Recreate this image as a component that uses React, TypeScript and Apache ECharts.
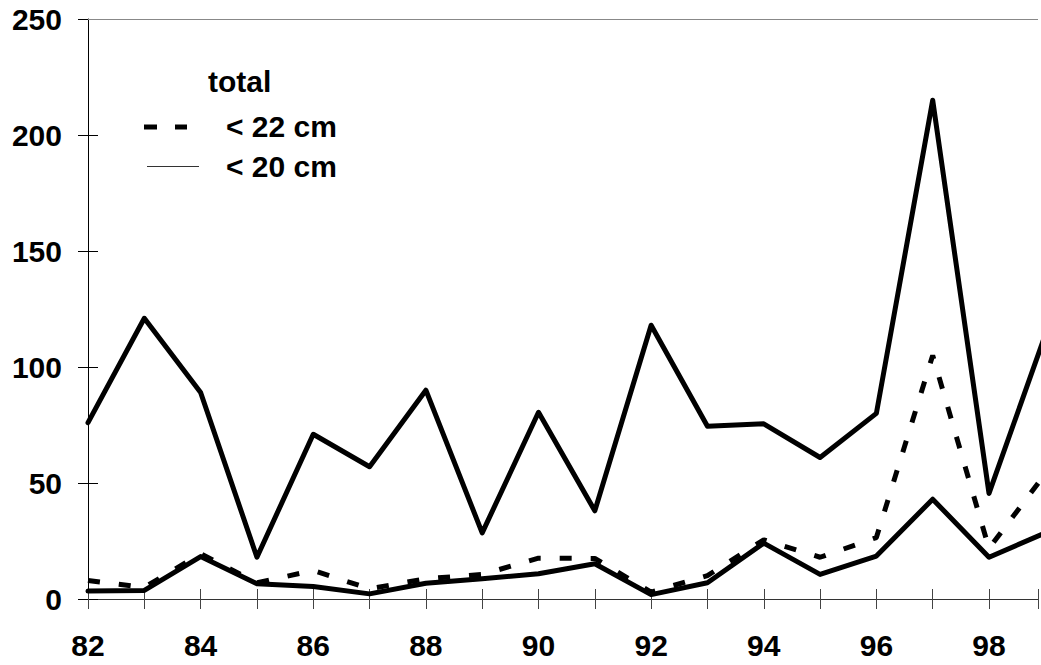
import React, { useEffect, useRef } from "react";
import * as echarts from "echarts";

// Years (19xx) and catch counts per series
const years = [82, 83, 84, 85, 86, 87, 88, 89, 90, 91, 92, 93, 94, 95, 96, 97, 98, 99];
const totalValues = [76, 121, 89, 18, 71, 57, 90, 28.5, 80.5, 38, 118, 74.5, 75.5, 61, 80, 215, 45.5, 114];
const under22Values = [8, 5, 19.5, 7, 12.3, 4.4, 8.7, 10.6, 17.6, 17.5, 3, 10.1, 25.5, 18, 26.5, 105, 21.8, 54];
const under20Values = [3.4, 3.7, 18.3, 6.6, 5.4, 2.2, 6.8, 8.7, 10.9, 15.2, 1.9, 7, 24.1, 10.6, 18.5, 43, 18, 28.5];
const yTicks = { min: 0, max: 250, step: 50 };
const legendLabels = ["total", "< 22 cm", "< 20 cm"];

const FONT = "'Liberation Sans', Arial, Helvetica, sans-serif";
const FONT_SIZE = 30;

const pairs = (vals: number[]) => years.map((y, i) => [y, vals[i]]);

export default function App() {
  const ref = useRef<HTMLDivElement>(null);

  useEffect(() => {
    if (!ref.current) return;
    const chart = echarts.init(ref.current, undefined, { renderer: "svg" });

    const labelStyle = {
      color: "#000",
      fontFamily: FONT,
      fontWeight: "bold" as const,
      fontSize: FONT_SIZE,
    };

    const thick = {
      color: "#000",
      width: 5,
      join: "round" as const,
      cap: "round" as const,
    };

    chart.setOption({
      animation: false,
      backgroundColor: "#fff",
      grid: { left: 88, top: 19, right: 0, bottom: 66, containLabel: false },
      xAxis: [
        {
          type: "value",
          position: "bottom",
          min: 82,
          max: 98.87,
          interval: 1,
          axisLine: { show: true, onZero: false, lineStyle: { color: "#333", width: 1 } },
          axisTick: { show: true, inside: false, length: 10, lineStyle: { color: "#444" } },
          axisLabel: {
            ...labelStyle,
            margin: 31,
            formatter: (v: number) => (Number.isInteger(v) && v % 2 === 0 ? String(v) : ""),
          },
          splitLine: { show: false },
        },
        {
          type: "value",
          position: "bottom",
          min: 82,
          max: 98.87,
          interval: 1,
          axisLine: { show: false, onZero: false },
          axisTick: { show: true, inside: true, length: 10, lineStyle: { color: "#444" } },
          axisLabel: { show: false },
          splitLine: { show: false },
        },
      ],
      yAxis: [
        {
          type: "value",
          position: "left",
          min: yTicks.min,
          max: yTicks.max,
          interval: yTicks.step,
          axisLine: { show: true, onZero: false, lineStyle: { color: "#000", width: 1 } },
          axisTick: { show: true, inside: false, length: 10, lineStyle: { color: "#000" } },
          axisLabel: { ...labelStyle, margin: 26 },
          splitLine: { show: false },
        },
        {
          type: "value",
          position: "left",
          min: yTicks.min,
          max: yTicks.max,
          interval: yTicks.step,
          axisLine: { show: false, onZero: false },
          axisTick: { show: true, inside: true, length: 10, lineStyle: { color: "#000" } },
          axisLabel: { show: false },
          splitLine: { show: false },
        },
      ],
      series: [
        {
          name: legendLabels[0],
          type: "line",
          data: pairs(totalValues),
          showSymbol: false,
          lineStyle: thick,
          markLine: {
            silent: true,
            symbol: ["none", "none"],
            label: { show: false },
            lineStyle: { color: "#888", width: 1, type: "solid" },
            data: [{ yAxis: yTicks.max }],
          },
        },
        {
          name: legendLabels[1],
          type: "line",
          data: pairs(under22Values),
          showSymbol: false,
          lineStyle: { color: "#000", width: 5, type: [12, 19], cap: "butt" },
        },
        {
          name: legendLabels[2],
          type: "line",
          data: pairs(under20Values),
          showSymbol: false,
          lineStyle: thick,
        },
      ],
      graphic: [
        {
          type: "text",
          left: 208,
          top: 66,
          style: { text: legendLabels[0], fill: "#000", font: `bold ${FONT_SIZE}px ${FONT}` },
        },
        {
          type: "rect",
          shape: { x: 144, y: 124.5, width: 13, height: 5 },
          style: { fill: "#000" },
        },
        {
          type: "rect",
          shape: { x: 175, y: 124.5, width: 12, height: 5 },
          style: { fill: "#000" },
        },
        {
          type: "text",
          left: 226,
          top: 111,
          style: { text: legendLabels[1], fill: "#000", font: `bold ${FONT_SIZE}px ${FONT}` },
        },
        {
          type: "line",
          shape: { x1: 147, y1: 166.5, x2: 199, y2: 166.5 },
          style: { stroke: "#333", lineWidth: 1 },
        },
        {
          type: "text",
          left: 226,
          top: 151,
          style: { text: legendLabels[2], fill: "#000", font: `bold ${FONT_SIZE}px ${FONT}` },
        },
      ],
    });

    return () => chart.dispose();
  }, []);

  return (
    <div
      ref={ref}
      style={{ position: "absolute", left: 0, top: 0, width: 1041, height: 665 }}
    />
  );
}
